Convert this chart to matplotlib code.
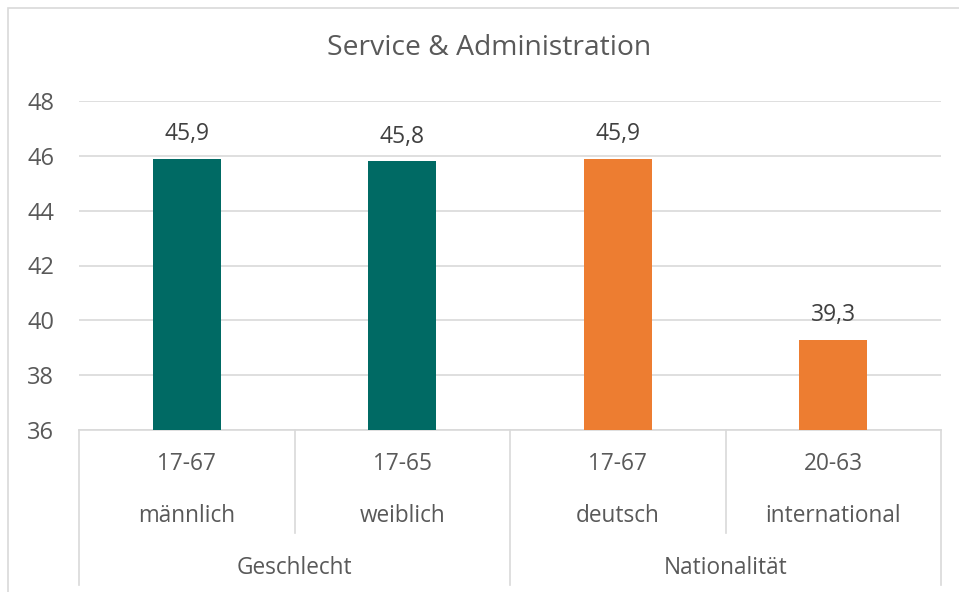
import matplotlib
matplotlib.use("Agg")
import matplotlib.pyplot as plt
from matplotlib.patches import Rectangle
from matplotlib.lines import Line2D

title = "Service & Administration"
age_ranges = ["17-67", "17-65", "17-67", "20-63"]
categories = ["männlich", "weiblich", "deutsch", "international"]
groups = ["Geschlecht", "Nationalität"]
group_sizes = [2, 2]
values = [45.9, 45.8, 45.9, 39.3]
value_labels = ["45,9", "45,8", "45,9", "39,3"]
colors = ["#006A64", "#006A64", "#ED7D31", "#ED7D31"]
yticks = [36, 38, 40, 42, 44, 46, 48]

plt.rcParams['font.family'] = ['Open Sans', 'DejaVu Sans']
TXT = "#595959"
GRID = "#D9D9D9"
FS = 16.3

fig = plt.figure(figsize=(9.59, 5.92), dpi=100)
fig.add_artist(Rectangle((8/959, -0.1), 1.0, 1 - 7.5/592 + 0.1, transform=fig.transFigure,
                         fill=False, edgecolor=GRID, linewidth=1.2))
ax = fig.add_axes([79/959, 1 - 430/592, (941 - 79)/959, (430 - 101)/592])

x = list(range(len(values)))
ymin = yticks[0]
ax.bar(x, [v - ymin for v in values], bottom=ymin, width=0.315, color=colors, zorder=3)
for xi, v, lab in zip(x, values, value_labels):
    ax.annotate(lab, (xi, v), xytext=(0, 9), textcoords="offset points",
                ha="center", va="bottom", fontsize=16.5, color="#404040")

ax.set_xlim(-0.5, len(values) - 0.5)
ax.set_ylim(yticks[0], yticks[-1])
ax.set_yticks(yticks)
ax.set_yticklabels([str(t) for t in yticks], fontsize=17, color=TXT)
ax.tick_params(axis="y", length=0, pad=18)
ax.set_xticks([])
for s in ["left", "right", "top"]:
    ax.spines[s].set_visible(False)
ax.spines["bottom"].set_color(GRID)
ax.spines["bottom"].set_linewidth(1.2)
ax.yaxis.grid(True, color=GRID, linewidth=1.2, zorder=0)

h = 430 - 101
def ya(py):
    return (430 - py) / h

tr = ax.get_xaxis_transform()
for xi, ar, cat in zip(x, age_ranges, categories):
    ax.text(xi, ya(464), ar, transform=tr, ha="center", va="center", fontsize=FS, color=TXT)
    ax.text(xi, ya(516), cat, transform=tr, ha="center", va="center", fontsize=FS, color=TXT)

# separators
start = 0
bounds = [-0.5]
for gs in group_sizes:
    start += gs
    bounds.append(start - 0.5)
for b in [xi + 0.5 for xi in x[:-1]]:
    outer = b in bounds
    ax.add_line(Line2D([b, b], [0, ya(585 if outer else 533)], transform=tr,
                       color=GRID, linewidth=1.2, clip_on=False))
for b in [bounds[0], bounds[-1]]:
    ax.add_line(Line2D([b, b], [0, ya(585)], transform=tr,
                       color=GRID, linewidth=1.2, clip_on=False))

for i, g in enumerate(groups):
    c = (bounds[i] + bounds[i + 1]) / 2
    ax.text(c, ya(568), g, transform=tr, ha="center", va="center", fontsize=FS, color=TXT)

fig.text(489/959, 1 - 48/592, title, ha="center", va="center", fontsize=20.3, color=TXT)

fig.savefig("out.png", dpi=100)
